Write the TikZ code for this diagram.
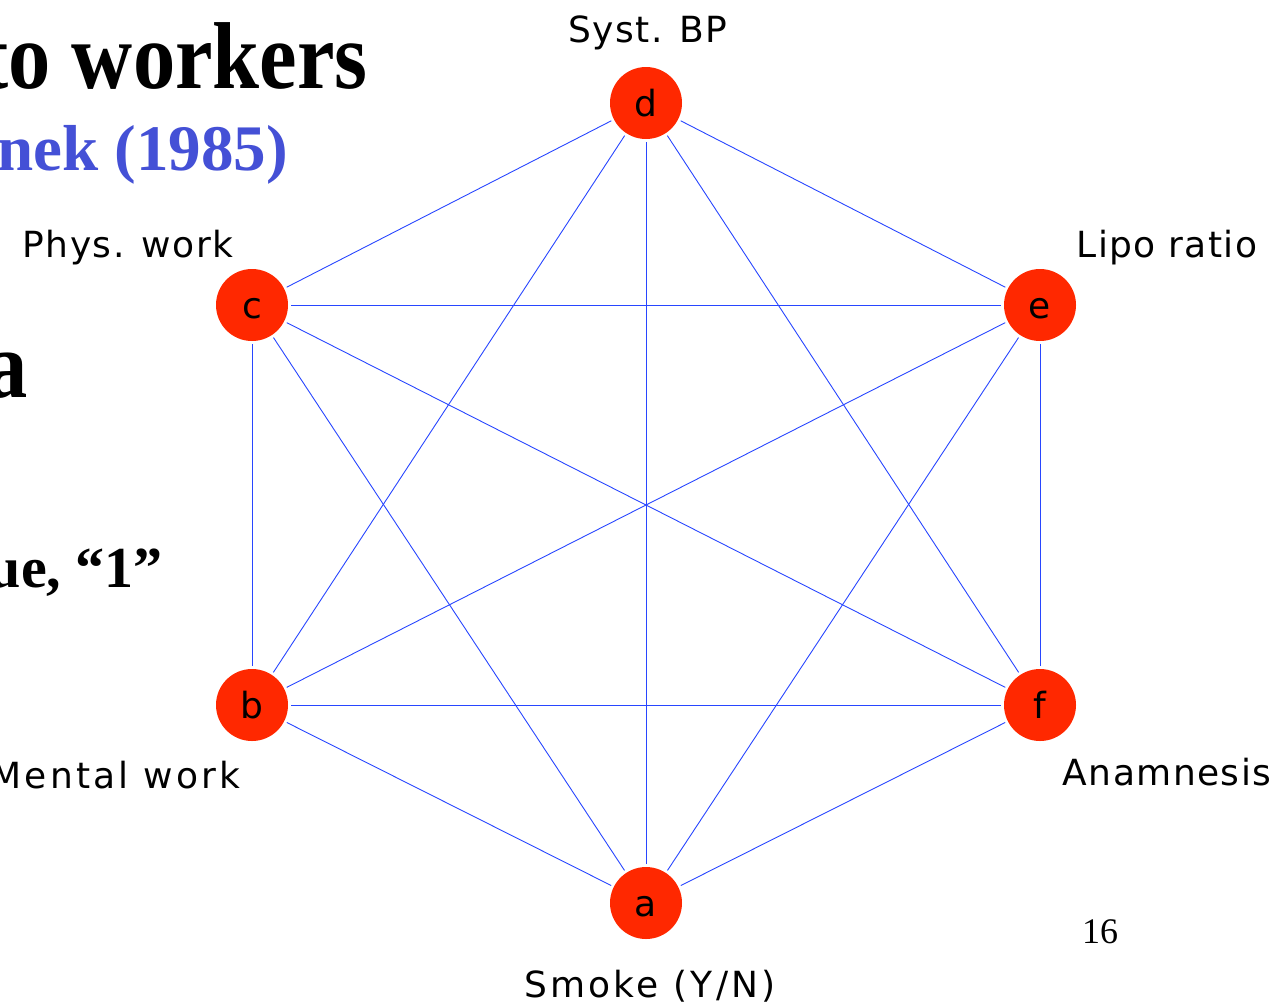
\documentclass[tikz,border=0pt]{standalone}
\usepackage{fontspec}
\usepackage{graphicx}
\setmainfont{Liberation Serif}
\newfontfamily\labelfont[LetterSpace=4]{DejaVu Sans}
\newfontfamily\widelabelfont[LetterSpace=9]{DejaVu Sans}
\definecolor{nodered}{RGB}{255,40,0}
\definecolor{edgeblue}{RGB}{40,70,255}
\definecolor{titleblue}{RGB}{68,80,214}
\newcommand{\narrow}[1]{\scalebox{0.89}[1]{#1}}

\begin{document}
\begin{tikzpicture}[x=1pt, y=-1pt,
    vertex/.style={circle, fill=nodered, minimum size=72pt, inner sep=0pt, outer sep=3pt,
        text height=26pt, text depth=0pt, font=\labelfont\fontsize{36}{40}\selectfont},
    varname/.style={anchor=base, font=\labelfont\fontsize{36}{40}\selectfont},
    slidetext/.style={anchor=base east, inner sep=0pt, font=\bfseries\fontsize{95}{100}\selectfont},
    edge/.style={edgeblue, line width=0.9pt}]

    \useasboundingbox (0,0) rectangle (1287,1005);

    % Slide text behind the graph
    \node[slidetext] (title) at (368,88) {\narrow{to workers}};
    \node[slidetext, titleblue, font=\bfseries\fontsize{65}{70}\selectfont] (source) at (288,170) {nek (1985)};
    \node[slidetext] (line1) at (28,397) {\narrow{a}};
    \node[slidetext, font=\bfseries\fontsize{58}{62}\selectfont] (line2) at (163,587) {ue, “1”};
    \node[anchor=base, font=\fontsize{36}{40}\selectfont] (page) at (1100,943) {16};

    % Vertices
    \node[vertex] (d) at (646,103) {d};
    \node[vertex] (c) at (252,305) {c};
    \node[vertex] (e) at (1040,305) {e};
    \node[vertex] (b) at (252,705) {b};
    \node[vertex] (f) at (1040,705) {f};
    \node[vertex] (a) at (646,903) {a};

    % Variable names
    \node[varname] (name-d) at (648,42) {Syst. BP};
    \node[varname] (name-c) at (128,257) {Phys. work};
    \node[varname] (name-e) at (1167,257) {Lipo ratio};
    \node[varname, anchor=base east, font=\widelabelfont\fontsize{36}{40}\selectfont] (name-b) at (244,788) {Mental work};
    \node[varname] (name-f) at (1167,785) {Anamnesis};
    \node[varname, font=\widelabelfont\fontsize{36}{40}\selectfont] (name-a) at (650,997) {Smoke (Y/N)};

    % Edges: every pair is joined
    \foreach \u/\v in {a/b, a/c, a/d, a/e, a/f, b/c, b/d, b/e, b/f, c/d, c/e, c/f, d/e, d/f, e/f} {
        \draw[edge] (\u) -- (\v);
    }

\end{tikzpicture}
\end{document}
